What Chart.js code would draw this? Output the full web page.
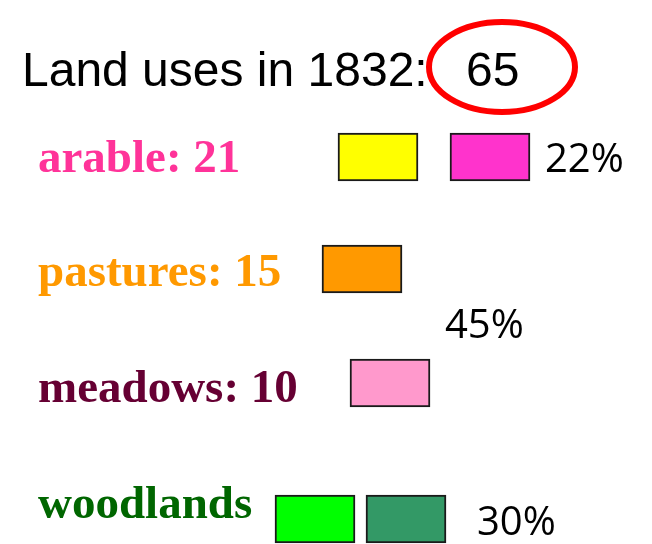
<!DOCTYPE html>
<html>
<head>
<meta charset="utf-8">
<script src="https://cdn.jsdelivr.net/npm/chart.js@4/dist/chart.umd.min.js"></script>
<style>
    html, body { margin: 0; padding: 0; background: #fff; }
    #wrap { width: 652px; height: 544px; position: relative; }
</style>
</head>
<body>
<div id="wrap"><canvas id="landChart"></canvas></div>
<script>
/* ========================================
   Land uses in 1832 - slide chart
   ======================================== */

// Data
const titleText = 'Land uses in 1832:';
const totalCount = 65;
const categories = ['arable', 'pastures', 'meadows', 'woodlands'];
const counts = [21, 15, 10, null];
const shares = [22, 45, 30];

// Layout (slide units, 1 unit = 1 px of the 652x544 slide)
const rowCenters = [157, 269, 383, 519];
const labelBaselines = [172, 286, 402, 518];
const labelColors = ['#ff3399', '#ff9900', '#660033', '#006600'];
const boxRows = [0, 0, 1, 2, 3, 3];
const boxStarts = [338, 450, 322, 350, 275, 366];
const boxWidth = 80;
const boxColors = ['#ffff00', '#ff33cc', '#ff9900', '#ff99cc', '#00ff00', '#339966'];
const shareX = [545, 445, 477];
const shareY = [172, 338, 535];

// Build one dataset per box so each can have its own colour
const datasets = boxStarts.map((start, i) => ({
    data: [{ x: [start, start + boxWidth], y: rowCenters[boxRows[i]] }],
    backgroundColor: boxColors[i],
    borderColor: '#1a1a1a',
    borderWidth: 2,
    borderSkipped: false,
    barThickness: 48,
    grouped: false
}));

// Text, percentages and the red ring around the total
const slideText = {
    id: 'slideText',
    afterDatasetsDraw(chart) {
        const { ctx, scales: { x, y } } = chart;
        ctx.save();
        ctx.textBaseline = 'alphabetic';
        ctx.textAlign = 'left';

        ctx.fillStyle = '#000';
        ctx.font = '48px "Liberation Sans", Arial, sans-serif';
        ctx.fillText(titleText, x.getPixelForValue(22), y.getPixelForValue(86));
        ctx.fillText(String(totalCount), x.getPixelForValue(466), y.getPixelForValue(86));

        ctx.strokeStyle = '#ff0000';
        ctx.lineWidth = 6;
        ctx.beginPath();
        ctx.ellipse(x.getPixelForValue(502), y.getPixelForValue(67), 73, 45, 0, 0, Math.PI * 2);
        ctx.stroke();

        ctx.font = 'bold 47px "Liberation Serif", "Times New Roman", serif';
        categories.forEach((cat, i) => {
            const label = counts[i] != null ? `${cat}: ${counts[i]}` : cat;
            ctx.fillStyle = labelColors[i];
            ctx.fillText(label, x.getPixelForValue(38), y.getPixelForValue(labelBaselines[i]));
        });

        ctx.fillStyle = '#000';
        ctx.font = '40px "Open Sans", "Noto Sans", sans-serif';
        shares.forEach((s, i) => {
            ctx.fillText(s + '%', x.getPixelForValue(shareX[i]), y.getPixelForValue(shareY[i]));
        });
        ctx.restore();
    }
};

new Chart(document.getElementById('landChart'), {
    type: 'bar',
    data: { datasets: datasets },
    options: {
        indexAxis: 'y',
        responsive: true,
        maintainAspectRatio: false,
        animation: false,
        layout: { padding: 0 },
        plugins: {
            legend: { display: false },
            tooltip: { enabled: false }
        },
        scales: {
            x: { type: 'linear', min: 0, max: 652, display: false },
            y: { type: 'linear', min: 0, max: 544, reverse: true, offset: false, display: false }
        }
    },
    plugins: [slideText]
});
</script>
</body>
</html>
